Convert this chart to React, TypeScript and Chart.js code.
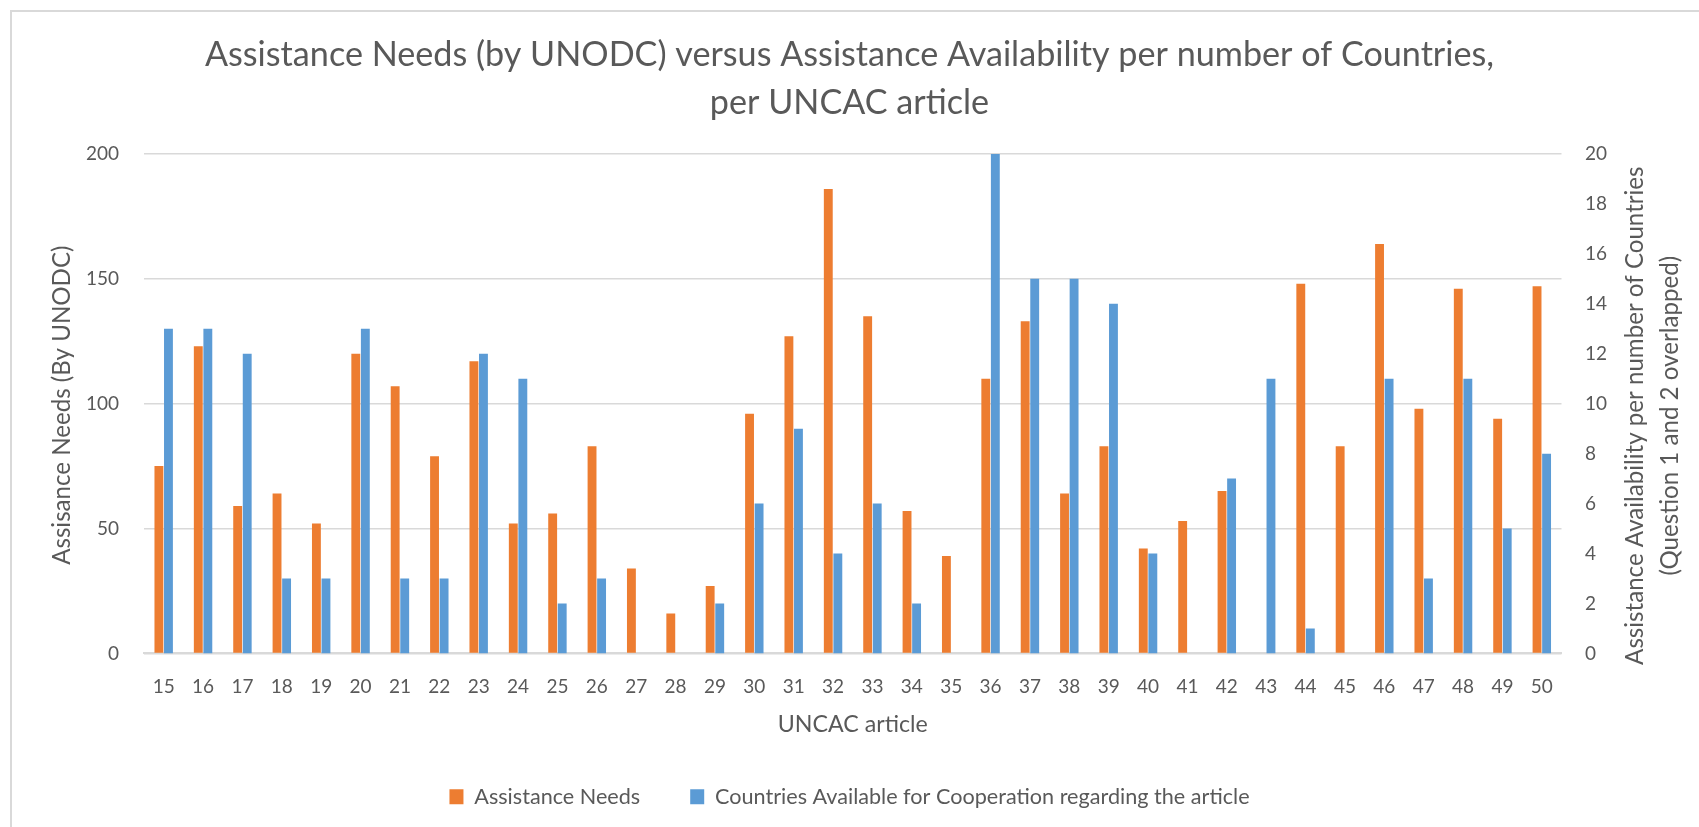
import React, { useEffect, useRef } from 'react';
import { Chart, ChartConfiguration, Plugin, registerables } from 'chart.js';

Chart.register(...registerables);

// UNCAC articles
const articles = [
  '15', '16', '17', '18', '19', '20', '21', '22', '23', '24', '25', '26',
  '27', '28', '29', '30', '31', '32', '33', '34', '35', '36', '37', '38',
  '39', '40', '41', '42', '43', '44', '45', '46', '47', '48', '49', '50',
];

// Assistance Needs (left axis)
const assistanceNeeds = [
  75, 123, 59, 64, 52, 120, 107, 79, 117, 52, 56, 83,
  34, 16, 27, 96, 127, 186, 135, 57, 39, 110, 133, 64,
  83, 42, 53, 65, 0, 148, 83, 164, 98, 146, 94, 147,
];

// Countries available for cooperation (right axis)
const countriesAvailable = [
  13, 13, 12, 3, 3, 13, 3, 3, 12, 11, 2, 3,
  0, 0, 2, 6, 9, 4, 6, 2, 0, 20, 15, 15,
  14, 4, 0, 7, 11, 1, 0, 11, 3, 11, 5, 8,
];

const titleLines = [
  'Assistance Needs (by UNODC) versus Assistance Availability per number of Countries,',
  'per UNCAC article',
];
const xAxisTitle = 'UNCAC article';
const leftAxisTitle = 'Assisance Needs (By UNODC)';
const rightAxisTitle = ['Assistance Availability per number of Countries', '(Question 1 and 2 overlapped)'];

const FONT = 'Lato, "Open Sans", sans-serif';
const TEXT = '#595959';
const GRID = '#d9d9d9';

// font size that makes `text` about `target` px wide (the original uses Calibri)
const fitSize = (text: string, target: number) => {
  const c = document.createElement('canvas').getContext('2d');
  if (!c) return 20;
  c.font = `100px ${FONT}`;
  return (100 * target) / c.measureText(text).width;
};

const makeAxisTitles = (size: number): Plugin<'bar'> => ({
  id: 'axisTitles',
  afterDraw(chart) {
    const { ctx, chartArea } = chart;
    const mid = (chartArea.top + chartArea.bottom) / 2;
    ctx.save();
    ctx.fillStyle = TEXT;
    ctx.font = `${size}px ${FONT}`;
    ctx.textAlign = 'center';
    ctx.textBaseline = 'middle';

    ctx.save();
    ctx.translate(62, mid + 1.5);
    ctx.rotate(-Math.PI / 2);
    ctx.fillText(leftAxisTitle, 0, 0);
    ctx.restore();

    rightAxisTitle.forEach((line, i) => {
      ctx.save();
      ctx.translate(chartArea.right + 73.5 + i * 35, mid + 12);
      ctx.rotate(-Math.PI / 2);
      ctx.fillText(line, 0, 0);
      ctx.restore();
    });
    ctx.restore();
  },
});

const App: React.FC = () => {
  const chartRef = useRef<HTMLCanvasElement>(null);
  const chartInstanceRef = useRef<Chart | null>(null);

  useEffect(() => {
    if (!chartRef.current) return;
    const ctx = chartRef.current.getContext('2d');
    if (!ctx) return;

    const titleSize = fitSize(titleLines[0], 1290);
    const axisTitleSize = (fitSize(leftAxisTitle, 314) + fitSize(rightAxisTitle[0], 507)) / 2;
    const xTitleSize = fitSize(xAxisTitle, 150);
    const legendSize = fitSize('Assistance Needs', 166);

    const config: ChartConfiguration<'bar'> = {
      type: 'bar',
      data: {
        labels: articles,
        datasets: [
          {
            label: 'Assistance Needs',
            data: assistanceNeeds,
            backgroundColor: '#ED7D31',
            yAxisID: 'y',
            categoryPercentage: 0.485,
            barPercentage: 0.93,
          },
          {
            label: 'Countries Available for Cooperation regarding the article',
            data: countriesAvailable,
            backgroundColor: '#5B9BD5',
            yAxisID: 'y1',
            categoryPercentage: 0.485,
            barPercentage: 0.93,
          },
        ],
      },
      options: {
        responsive: true,
        maintainAspectRatio: false,
        animation: false,
        layout: {
          padding: { left: 0, right: 0, top: 0, bottom: 9.5 },
        },
        plugins: {
          title: {
            display: true,
            text: titleLines,
            color: TEXT,
            font: { family: FONT, size: titleSize, weight: 'normal', lineHeight: 48 / titleSize },
            padding: { top: 31, bottom: 27 },
          },
          legend: {
            display: true,
            position: 'bottom',
            labels: {
              color: TEXT,
              font: { family: FONT, size: legendSize },
              boxWidth: 14,
              boxHeight: 15,
              padding: 50,
            },
          },
          tooltip: { enabled: false },
        },
        scales: {
          x: {
            afterFit: (scale) => {
              scale.height = 82.5;
            },
            grid: { display: false, drawTicks: false },
            border: { color: GRID, width: 2 },
            ticks: { color: TEXT, font: { family: FONT, size: 19 }, padding: 22 },
            title: {
              display: true,
              text: xAxisTitle,
              color: TEXT,
              font: { family: FONT, size: xTitleSize, lineHeight: 1 },
              padding: { top: 0, bottom: 0 },
            },
          },
          y: {
            position: 'left',
            min: 0,
            max: 200,
            afterFit: (scale) => {
              scale.width = 144;
            },
            ticks: { stepSize: 50, color: TEXT, font: { family: FONT, size: 19 }, padding: 25 },
            grid: { color: GRID, lineWidth: 1.5, drawTicks: false },
            border: { display: false },
          },
          y1: {
            position: 'right',
            min: 0,
            max: 20,
            afterFit: (scale) => {
              scale.width = 137.5;
            },
            ticks: { stepSize: 2, color: TEXT, font: { family: FONT, size: 19 }, padding: 23.5 },
            grid: { display: false, drawTicks: false },
            border: { display: false },
          },
        },
      },
      plugins: [makeAxisTitles(axisTitleSize)],
    };

    chartInstanceRef.current = new Chart(ctx, config);

    return () => {
      if (chartInstanceRef.current) {
        chartInstanceRef.current.destroy();
        chartInstanceRef.current = null;
      }
    };
  }, []);

  return (
    <div style={{ position: 'fixed', left: 0, top: 0, width: 1699, height: 827, background: '#fff' }}>
      <div style={{ position: 'absolute', left: 10, top: 10, width: 1689, height: 2, background: GRID }} />
      <div style={{ position: 'absolute', left: 10, top: 10, width: 2, height: 817, background: GRID }} />
      <div style={{ position: 'absolute', left: 0, top: 0, width: 1699, height: 827 }}>
        <canvas ref={chartRef} />
      </div>
    </div>
  );
};

export default App;
